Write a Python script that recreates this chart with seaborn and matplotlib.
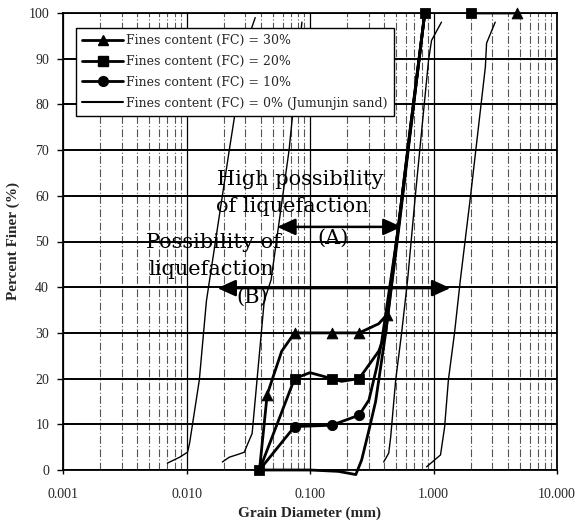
import numpy as np
import pandas as pd
import matplotlib
matplotlib.use("Agg")
import matplotlib.pyplot as plt
from matplotlib.lines import Line2D
from matplotlib.ticker import FixedLocator, LogLocator, NullFormatter, FixedFormatter
import seaborn as sns

# ---- grain size distribution data (grain diameter in mm, percent finer in %) ----
fc30_d = [0.039, 0.045, 0.059, 0.075, 0.15, 0.25, 0.30, 0.36, 0.42, 0.53, 0.65, 0.85, 1.2, 1.6, 2.0, 4.75]
fc30_p = [0, 16.5, 26, 30, 30, 30, 31, 32, 34, 55, 75, 100, 107, 102, 100, 100]
fc30_mark_d = [0.045, 0.075, 0.15, 0.25, 0.42, 4.75]
fc30_mark_p = [16.5, 30, 30, 30, 34, 100]

fc20_d = [0.039, 0.075, 0.10, 0.15, 0.18, 0.25, 0.30, 0.36, 0.41, 0.53, 0.65, 0.85, 1.2, 1.6, 2.0]
fc20_p = [0, 20, 21.3, 20, 19.4, 20, 23, 26, 30, 54, 74, 100, 107, 102, 100]
fc20_mark_d = [0.039, 0.075, 0.15, 0.25, 0.85, 2.0]
fc20_mark_p = [0, 20, 20, 20, 100, 100]

fc10_d = [0.039, 0.075, 0.15, 0.25, 0.30, 0.347, 0.38, 0.52, 0.64, 0.85]
fc10_p = [0, 9.5, 9.8, 12, 15.3, 22.5, 28, 53, 73, 100]
fc10_mark_d = [0.075, 0.15, 0.25]
fc10_mark_p = [9.5, 9.8, 12]

fc0_d = [0.039, 0.10, 0.17, 0.235, 0.262, 0.30, 0.34, 0.41, 0.52, 0.645, 0.85]
fc0_p = [0, 0, -0.3, -1, 2.2, 8.7, 15, 30, 53.5, 74, 100]

# boundary curves of liquefiable soils
bnd1_d = [0.0070, 0.0088, 0.0102, 0.0106, 0.0127, 0.0145, 0.0222, 0.029, 0.033, 0.036]
bnd1_p = [1.5, 2.8, 3.9, 5.9, 19.7, 37, 70, 90, 96, 99]
bnd2_d = [0.0195, 0.0222, 0.0267, 0.0294, 0.0305, 0.034, 0.0426, 0.0484, 0.0677, 0.086]
bnd2_p = [1.75, 2.8, 3.5, 3.9, 5, 8, 37, 41.6, 70, 98]
bnd3_d = [0.395, 0.434, 0.45, 0.494, 0.552, 0.617, 0.716, 0.912, 0.964, 1.16]
bnd3_p = [1.75, 3.7, 7.2, 19.7, 30, 41.6, 60.6, 89.7, 94, 98]
bnd4_d = [0.879, 1.14, 1.23, 1.32, 1.48, 1.65, 1.99, 2.63, 2.69, 3.16]
bnd4_p = [0.7, 3.3, 9.4, 19.7, 30, 41.6, 59.7, 88.2, 93.4, 98]

# ranges marked by the double arrows
range_a_d = [0.0542, 0.552]
range_a_p = 53.2
range_b_d = [0.0178, 1.37]
range_b_p = 39.8

x_tick_vals = [0.001, 0.01, 0.1, 1, 10]
x_tick_labels = ["0.001", "0.010", "0.100", "1.000", "10.000"]
y_tick_vals = list(range(0, 101, 10))

legend_labels = ["Fines content (FC) = 30%", "Fines content (FC) = 20%",
                 "Fines content (FC) = 10%", "Fines content (FC) = 0% (Jumunjin sand)"]

sns.set_theme(style="white")
plt.rcParams["font.family"] = ["Liberation Serif", "DejaVu Serif"]

fig = plt.figure(figsize=(5.82, 5.27), dpi=100)
ax = fig.add_axes([63 / 582, 1 - 470 / 527, (557 - 63) / 582, (470 - 13) / 527])
ax.set_xscale("log")
ax.set_xlim(0.001, 10)
ax.set_ylim(0, 100)

# grid
ax.set_axisbelow(True)
ax.xaxis.set_major_locator(FixedLocator(x_tick_vals))
ax.xaxis.set_major_formatter(FixedFormatter(x_tick_labels))
ax.xaxis.set_minor_locator(LogLocator(base=10, subs=np.arange(2, 10)))
ax.xaxis.set_minor_formatter(NullFormatter())
ax.yaxis.set_major_locator(FixedLocator(y_tick_vals))
ax.grid(which="major", axis="x", color="black", lw=0.9, ls="-")
ax.grid(which="minor", axis="x", color="#555555", lw=0.8, ls=(0, (7, 2, 1, 2)))
ax.grid(which="major", axis="y", color="black", lw=1.4, ls="-")

for s in ax.spines.values():
    s.set_color("black")
    s.set_linewidth(1.3)

# boundary curves
for bd, bp in [(bnd1_d, bnd1_p), (bnd2_d, bnd2_p), (bnd3_d, bnd3_p), (bnd4_d, bnd4_p)]:
    sns.lineplot(x=bd, y=bp, ax=ax, color="black", lw=1.0, sort=False, estimator=None)

# gradation curves
lw = 2.0
sns.lineplot(x=fc0_d, y=fc0_p, ax=ax, color="black", lw=lw, sort=False, estimator=None,
             clip_on=False, zorder=4)
for d, p in [(fc10_d, fc10_p), (fc30_d, fc30_p), (fc20_d, fc20_p)]:
    sns.lineplot(x=d, y=p, ax=ax, color="black", lw=lw, sort=False, estimator=None, zorder=4)

sns.scatterplot(x=fc10_mark_d, y=fc10_mark_p, ax=ax, marker="o", s=55, color="black",
                edgecolor="black", zorder=5, clip_on=False)
sns.scatterplot(x=fc30_mark_d, y=fc30_mark_p, ax=ax, marker="^", s=60, color="black",
                edgecolor="black", zorder=5, clip_on=False)
sns.scatterplot(x=fc20_mark_d, y=fc20_mark_p, ax=ax, marker="s", s=50, color="black",
                edgecolor="black", zorder=6, clip_on=False)

# arrows
arrow_kw = dict(arrowstyle="<|-|>,head_length=0.55,head_width=0.25", color="black",
                lw=1.8, mutation_scale=20, shrinkA=0, shrinkB=0)
ax.annotate("", xy=(range_a_d[0], range_a_p), xytext=(range_a_d[1], range_a_p),
            arrowprops=arrow_kw, zorder=7)
ax.annotate("", xy=(range_b_d[0], range_b_p), xytext=(range_b_d[1], range_b_p),
            arrowprops=arrow_kw, zorder=7)

txt_kw = dict(transform=ax.transAxes, fontsize=15, family="DejaVu Serif",
              color="black", va="center", zorder=8)
ax.text(0.312, 0.635, "High possibility", ha="left", **txt_kw)
ax.text(0.310, 0.576, "of liquefaction", ha="left", **txt_kw)
ax.text(0.547, 0.508, "(A)", ha="center", **txt_kw)
ax.text(0.304, 0.497, "Possibility of", ha="center", **txt_kw)
ax.text(0.300, 0.438, "liquefaction", ha="center", **txt_kw)
ax.text(0.383, 0.379, "(B)", ha="center", **txt_kw)

# ticks and labels
ax.tick_params(axis="y", which="major", direction="out", length=4, width=1, color="black",
               left=True, labelsize=10, pad=6)
ax.tick_params(axis="x", which="major", direction="out", length=3, width=1, color="black",
               bottom=True, labelsize=10, pad=10)
ax.tick_params(axis="x", which="minor", length=0)
for lab in ax.get_xticklabels() + ax.get_yticklabels():
    lab.set_family("Liberation Serif")
ax.set_xlabel("Grain Diameter (mm)", fontsize=11, fontweight="bold", labelpad=4)
ax.set_ylabel("Percent Finer (%)", fontsize=11, fontweight="bold", labelpad=6)

# legend
handles = [
    Line2D([], [], color="black", lw=lw, marker="^", markersize=7),
    Line2D([], [], color="black", lw=lw, marker="s", markersize=6.5),
    Line2D([], [], color="black", lw=lw, marker="o", markersize=7),
    Line2D([], [], color="black", lw=1.5),
]
leg = ax.legend(handles, legend_labels, loc="upper left", bbox_to_anchor=(0.026, 0.967),
                borderaxespad=0, frameon=True, fancybox=False, shadow=False,
                prop={"family": "DejaVu Serif", "size": 9}, handlelength=3.3,
                handletextpad=0.25, labelspacing=0.62, borderpad=0.5)
leg.get_frame().set_edgecolor("black")
leg.get_frame().set_linewidth(1.0)
leg.get_frame().set_alpha(1)
leg.set_zorder(10)

fig.savefig("out.png", dpi=100)
